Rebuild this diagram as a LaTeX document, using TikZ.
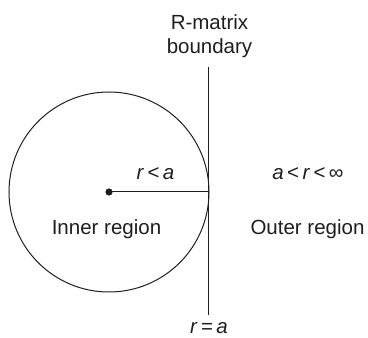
\documentclass[tikz,border=0pt]{standalone}
\usepackage{fontspec}
\setmainfont{Liberation Sans}
\usepackage{tikz}
\usepackage{xcolor}
\definecolor{inkgray}{RGB}{30,30,30}

\begin{document}
\begin{tikzpicture}[
    x=1pt, y=1pt,
    label/.style={inner sep=0pt, font=\fontsize{20.5}{24}\selectfont, text=inkgray},
    edge/.style={draw=inkgray, line width=1pt},
]
\useasboundingbox (0,0) rectangle (368,338);

% sphere and its centre
\coordinate (centre) at (109,146);
\coordinate (touch) at (209,146);
\draw[edge] (centre) circle[radius=100];
\fill[inkgray] (centre) circle[radius=3.6];

% boundary line
\coordinate (btop) at (209,271);
\coordinate (bbot) at (209,23);
\draw[edge] (btop) -- (bbot);

% radius
\draw[edge] (centre) -- (touch);

% labels
\node[label, align=center] (rmat) at (209.5,301.5) {R-matrix\\boundary};
\node[label] (rlta) at (155.5,164) {\textit{r}\,<\,\textit{a}};
\node[label] (inner) at (106.5,109) {Inner region};
\node[label] (outer) at (307.5,109) {Outer region};
\node[label] (range) at (308,164) {\textit{a}\,<\,\textit{r}\,<\,∞};
\node[label, anchor=base] (req) at (209,4) {\textit{r}\,=\,\textit{a}};
\end{tikzpicture}
\end{document}
